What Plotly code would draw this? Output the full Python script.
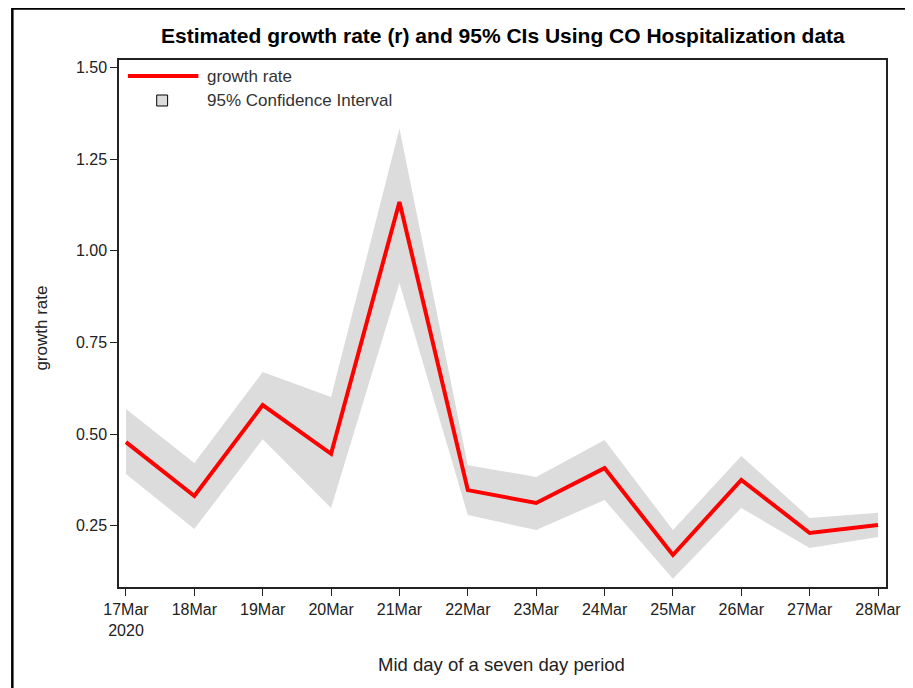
import plotly.graph_objects as go

dates = ["2020-03-17", "2020-03-18", "2020-03-19", "2020-03-20", "2020-03-21", "2020-03-22",
         "2020-03-23", "2020-03-24", "2020-03-25", "2020-03-26", "2020-03-27", "2020-03-28"]
growth_rate = [0.478, 0.331, 0.579, 0.446, 1.133, 0.347, 0.312, 0.407, 0.170, 0.375, 0.230, 0.252]
ci_upper = [0.568, 0.421, 0.669, 0.601, 1.333, 0.415, 0.383, 0.484, 0.238, 0.440, 0.271, 0.285]
ci_lower = [0.391, 0.241, 0.486, 0.298, 0.912, 0.279, 0.238, 0.320, 0.105, 0.298, 0.189, 0.219]
x_ticktext = ["17Mar<br>2020", "18Mar", "19Mar", "20Mar", "21Mar", "22Mar",
              "23Mar", "24Mar", "25Mar", "26Mar", "27Mar", "28Mar"]
y_ticks = [0.25, 0.50, 0.75, 1.00, 1.25, 1.50]

FONT = "Liberation Sans, Arial, sans-serif"
OFF = 8  # page body margin
W, H = 913 - OFF, 688 - OFF
L, R, T, B = 119 - OFF, 21, 60 - OFF, 101
pw, ph = W - L - R, H - T - B

def px(x):
    return (x - OFF - L) / pw

def py(y):
    return (H + OFF - B - y) / ph

fig = go.Figure()
fig.add_trace(go.Scatter(x=dates, y=ci_upper, mode="lines", line=dict(width=0),
                         showlegend=False, hoverinfo="skip"))
fig.add_trace(go.Scatter(x=dates, y=ci_lower, mode="lines", line=dict(width=0),
                         fill="tonexty", fillcolor="#DCDCDC", showlegend=False,
                         name="95% Confidence Interval"))
fig.add_trace(go.Scatter(x=dates, y=growth_rate, mode="lines",
                         line=dict(color="#FF0000", width=4), showlegend=False,
                         name="growth rate"))

shapes = [
    dict(type="rect", xref="paper", yref="paper", x0=px(11.5), y0=py(720), x1=px(960), y1=py(8.5),
         line=dict(color="black", width=2.5), fillcolor="rgba(0,0,0,0)", layer="above"),
    dict(type="line", xref="paper", yref="paper", x0=px(128), x1=px(199), y0=py(76), y1=py(76),
         line=dict(color="#FF0000", width=4)),
    dict(type="rect", xref="paper", yref="paper", x0=px(157), x1=px(168), y0=py(106), y1=py(95),
         line=dict(color="black", width=1), fillcolor="#DCDCDC"),
]

annotations = [
    dict(text="growth rate", xref="paper", yref="paper", x=px(206), y=py(76), xanchor="left",
         yanchor="middle", showarrow=False, font=dict(family=FONT, size=17, color="#333333")),
    dict(text="95% Confidence Interval", xref="paper", yref="paper", x=px(206), y=py(100),
         xanchor="left", yanchor="middle", showarrow=False,
         font=dict(family=FONT, size=17, color="#333333")),
    dict(text="growth rate", xref="paper", yref="paper", x=px(40), y=py(328), xanchor="center",
         yanchor="middle", textangle=-90, showarrow=False,
         font=dict(family=FONT, size=17, color="#222222")),
    dict(text="Mid day of a seven day period", xref="paper", yref="paper", x=px(504), y=py(664),
         xanchor="center", yanchor="middle", showarrow=False,
         font=dict(family=FONT, size=18.5, color="#222222")),
    dict(text="<b>Estimated growth rate (r) and 95% CIs Using CO Hospitalization data</b>",
         xref="paper", yref="paper", x=px(506), y=py(36), xanchor="center", yanchor="middle",
         showarrow=False, font=dict(family=FONT, size=21, color="black")),
]

fig.update_layout(
    width=W, height=H,
    margin=dict(l=L, r=R, t=T, b=B),
    paper_bgcolor="white", plot_bgcolor="white",
    shapes=shapes, annotations=annotations,
    showlegend=False,
)
fig.update_xaxes(
    type="date",
    range=["2020-03-16 21:33", "2020-03-28 02:48"],
    tickvals=dates, ticktext=x_ticktext,
    showline=True, linecolor="#222222", linewidth=1.5, mirror=True,
    ticks="outside", ticklen=7, tickcolor="#222222", tickwidth=1.2,
    showgrid=False, zeroline=False,
    tickfont=dict(family=FONT, size=16, color="#222222"),
)
fig.update_yaxes(
    range=[0.0828, 1.520],
    tickvals=y_ticks, tickformat=".2f",
    showline=True, linecolor="#222222", linewidth=1.5, mirror=True,
    ticks="outside", ticklen=7, tickcolor="#222222", tickwidth=1.2,
    showgrid=False, zeroline=False,
    tickfont=dict(family=FONT, size=16, color="#222222"),
)

fig.write_html("out.html")
